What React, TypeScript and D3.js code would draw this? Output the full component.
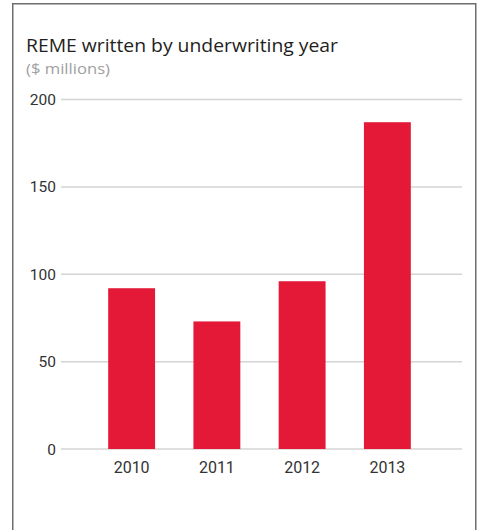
import { useEffect, useRef } from 'react'
import * as d3 from 'd3'

const years = ['2010', '2011', '2012', '2013']
const written = [92, 73, 96, 187]
const yTicks = [0, 50, 100, 150, 200]

export default function App() {
  const svgRef = useRef<SVGSVGElement>(null)

  useEffect(() => {
    document.body.style.margin = '0'
    if (!svgRef.current) return
    const svg = d3.select(svgRef.current)
    svg.selectAll('*').remove()

    const W = 481
    const H = 530

    // frame
    svg.append('rect')
      .attr('x', 12.75).attr('y', 3.75)
      .attr('width', 463).attr('height', H + 20)
      .attr('fill', 'none')
      .attr('stroke', '#6e6e6e')
      .attr('stroke-width', 1.5)

    svg.append('text')
      .attr('x', 26).attr('y', 52)
      .attr('font-family', '"Open Sans", sans-serif')
      .attr('font-size', 18)
      .attr('fill', '#231f20')
      .attr('textLength', 312)
      .attr('lengthAdjust', 'spacingAndGlyphs')
      .text('REME written by underwriting year')

    svg.append('text')
      .attr('x', 26).attr('y', 73.5)
      .attr('font-family', '"Open Sans", sans-serif')
      .attr('font-size', 14.5)
      .attr('fill', '#a0a0a0')
      .attr('textLength', 84)
      .attr('lengthAdjust', 'spacingAndGlyphs')
      .text('($ millions)')

    const y = d3.scaleLinear().domain([0, 200]).range([449, 99.5])
    const x = d3.scaleBand<string>().domain(years).range([89, 430]).paddingInner(0.45).paddingOuter(0.225)

    const grid = svg.append('g')
    grid.selectAll('line')
      .data(yTicks)
      .join('line')
      .attr('x1', 61).attr('x2', 462)
      .attr('y1', d => y(d)).attr('y2', d => y(d))
      .attr('stroke', '#d4d4d4')
      .attr('stroke-width', 1.5)

    grid.selectAll('text')
      .data(yTicks)
      .join('text')
      .attr('x', 56)
      .attr('y', d => y(d) + 5.5)
      .attr('text-anchor', 'end')
      .attr('font-family', 'Roboto, sans-serif')
      .attr('font-size', 15.5)
      .attr('fill', '#333')
      .text(d => d)

    svg.append('g')
      .selectAll('rect')
      .data(written)
      .join('rect')
      .attr('x', (_, i) => x(years[i]) as number)
      .attr('width', x.bandwidth())
      .attr('y', d => y(d))
      .attr('height', d => y(0) - y(d))
      .attr('fill', '#e31937')

    svg.append('g')
      .selectAll('text')
      .data(years)
      .join('text')
      .attr('x', d => (x(d) as number) + x.bandwidth() / 2)
      .attr('y', 473)
      .attr('text-anchor', 'middle')
      .attr('font-family', 'Roboto, sans-serif')
      .attr('font-size', 16)
      .attr('fill', '#333')
      .text(d => d)

    svg.attr('width', W).attr('height', H)
  }, [])

  return <svg ref={svgRef} width={481} height={530} style={{ display: 'block' }}></svg>
}
